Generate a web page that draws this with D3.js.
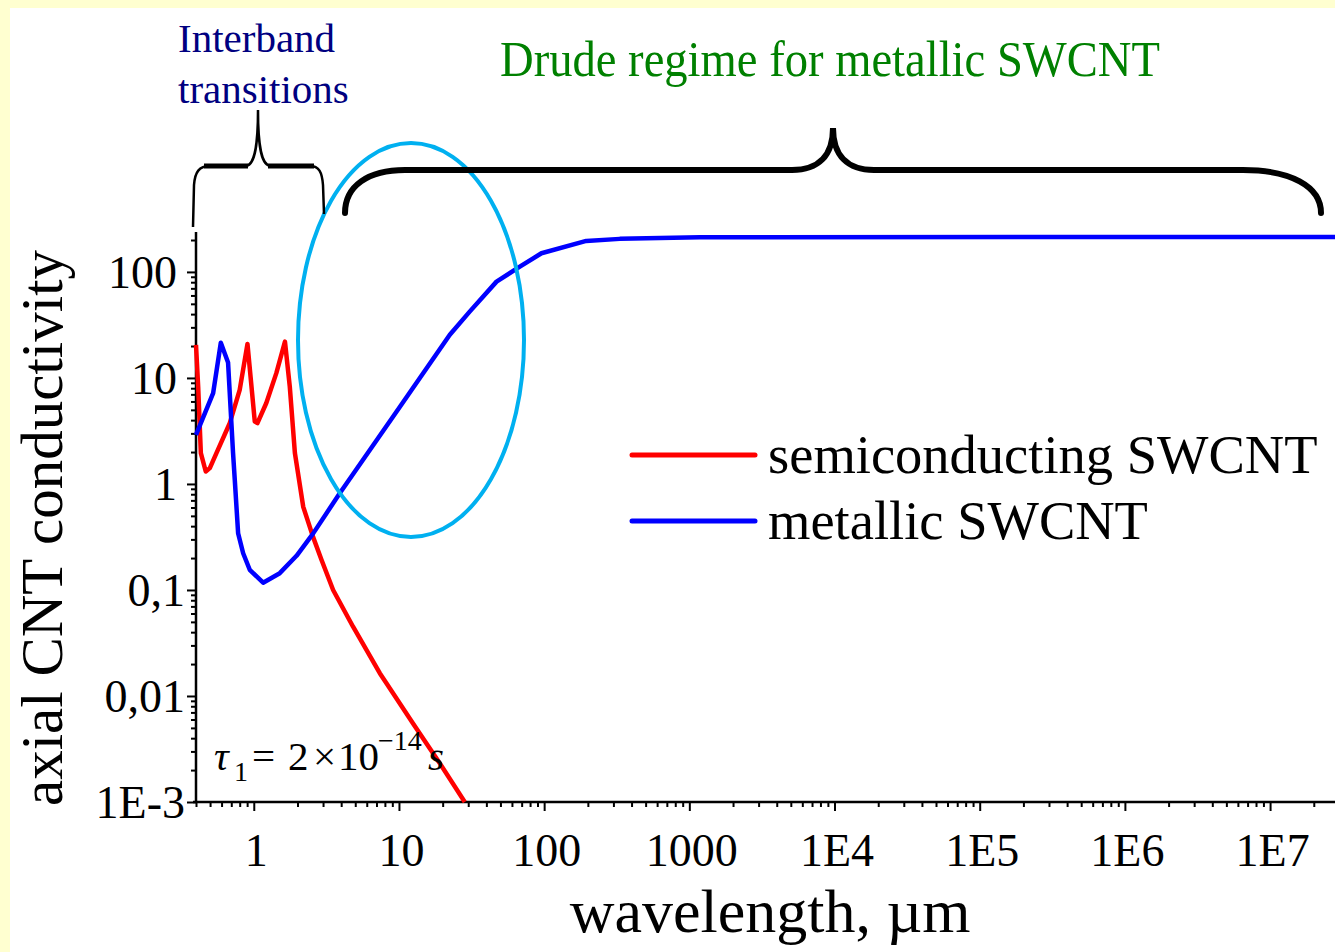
<!DOCTYPE html>
<html>
<head>
<meta charset="utf-8">
<script src="https://cdn.jsdelivr.net/npm/d3@7"></script>
<style>
  body { margin: 0; background: #FFFFD0; }
  svg { display: block; font-family: "Liberation Serif", "Times New Roman", serif; }
</style>
</head>
<body>
<div id="chart"></div>
<script>
// axis ticks
const xTickValues = [1, 10, 100, 1000, 1e4, 1e5, 1e6, 1e7];
const xTickLabels = ["1", "10", "100", "1000", "1E4", "1E5", "1E6", "1E7"];
const yTickValues = [1e-3, 0.01, 0.1, 1, 10, 100];
const yTickLabels = ["1E-3", "0,01", "0,1", "1", "10", "100"];

// semiconducting SWCNT (wavelength in um, conductivity)
const semiWavelength = [0.40, 0.414, 0.432, 0.467, 0.498, 0.553, 0.684, 0.80, 0.905,
  1.016, 1.06, 1.22, 1.43, 1.64, 1.77, 1.92, 2.19, 2.56, 2.93, 3.52, 4.83, 7.38, 8.2,
  12.5, 19.1, 28.4];
const semiConductivity = [20.5, 8.3, 1.95, 1.31, 1.41, 1.95, 3.76, 7.7, 20.9,
  3.87, 3.75, 5.8, 11.1, 22.0, 8.3, 1.95, 0.61, 0.317, 0.192, 0.100, 0.045, 0.0164, 0.0132,
  0.0055, 0.00232, 0.001];

// metallic SWCNT
const metalWavelength = [0.40, 0.525, 0.593, 0.665, 0.72, 0.74, 0.78, 0.845, 0.938,
  1.16, 1.51, 1.97, 2.56, 3.91, 10.1, 22.4, 30.7, 47, 68, 95.8, 195, 332, 1180, 2.8e7];
const metalConductivity = [2.9, 7.2, 21.5, 14.0, 1.95, 1.09, 0.343, 0.222, 0.155,
  0.117, 0.144, 0.21, 0.34, 0.817, 5.3, 25.5, 42.2, 81, 112, 150, 196, 205, 212, 214];

const seriesNames = ["semiconducting SWCNT", "metallic SWCNT"];
const seriesColors = ["#FF0000", "#0000FF"];

const W = 1335, H = 952;
const plot = {left: 196, right: 1335, top: 232, bottom: 802};

const svg = d3.select("#chart").append("svg")
    .attr("width", W)
    .attr("height", H);

// white panel inside yellow frame
svg.append("rect")
    .attr("x", 10).attr("y", 8)
    .attr("width", W - 10).attr("height", H - 8)
    .attr("fill", "#FFFFFF");

const xScale = d3.scaleLog().domain([0.4, 2.8e7]).range([plot.left, plot.right]);
const yScale = d3.scaleLog().domain([1e-3, 238]).range([plot.bottom, plot.top]);

// minor tick positions (2..9 in each decade)
const minorX = [];
for (let d = 0.1; d <= 1e7; d *= 10) {
    for (let m = 2; m <= 9; m++) {
        const v = +(d * m).toPrecision(3);
        if (v >= 0.4 && v <= 2.8e7) minorX.push(v);
    }
}
const minorY = [];
for (let d = 1e-3; d <= 100; d *= 10) {
    for (let m = 2; m <= 9; m++) {
        const v = +(d * m).toPrecision(3);
        if (v <= 238) minorY.push(v);
    }
}

// x axis
const xAxisG = svg.append("g")
    .attr("class", "xAxisG")
    .attr("transform", "translate(0," + plot.bottom + ")");
xAxisG.append("g")
    .call(d3.axisBottom(xScale).tickValues(minorX).tickSize(5).tickSizeOuter(0).tickFormat(""))
    .call(g => g.select(".domain").remove());
xAxisG.append("g")
    .call(d3.axisBottom(xScale).tickValues(xTickValues).tickSize(9).tickSizeOuter(0)
        .tickFormat((d, i) => xTickLabels[i]))
    .call(g => g.select(".domain").remove())
    .selectAll("text")
        .attr("y", 0).attr("dy", null)
        .attr("transform", "translate(2,64)")
        .attr("font-size", 46)
        .attr("font-family", "Liberation Serif")
        .attr("fill", "#000");
xAxisG.selectAll(".tick line").attr("stroke", "#000").attr("stroke-width", 2);
xAxisG.append("line")
    .attr("x1", 193).attr("x2", plot.right)
    .attr("stroke", "#000").attr("stroke-width", 2.5);

// y axis
const yAxisG = svg.append("g")
    .attr("class", "yAxisG")
    .attr("transform", "translate(" + plot.left + ",0)");
yAxisG.append("g")
    .call(d3.axisLeft(yScale).tickValues(minorY).tickSize(5).tickSizeOuter(0).tickFormat(""))
    .call(g => g.select(".domain").remove());
yAxisG.append("g")
    .call(d3.axisLeft(yScale).tickValues(yTickValues).tickSize(9).tickSizeOuter(0)
        .tickFormat((d, i) => yTickLabels[i]))
    .call(g => g.select(".domain").remove())
    .selectAll("text")
        // whole numbers sit a little further left than the decimal / exponent labels
        .attr("x", (d, i) => /[,E]/.test(yTickLabels[i]) ? -11 : -19)
        .attr("dy", "0.34em")
        .attr("font-size", 46)
        .attr("font-family", "Liberation Serif")
        .attr("fill", "#000");
yAxisG.selectAll(".tick line").attr("stroke", "#000").attr("stroke-width", 2);
yAxisG.append("line")
    .attr("y1", plot.top).attr("y2", plot.bottom)
    .attr("stroke", "#000").attr("stroke-width", 2.5);

// axis titles
svg.append("text")
    .attr("x", 770).attr("y", 932)
    .attr("text-anchor", "middle")
    .attr("font-size", 62)
    .text("wavelength, \u00B5m");
svg.append("text")
    .attr("transform", "translate(62,528) rotate(-90)")
    .attr("text-anchor", "middle")
    .attr("font-size", 59)
    .text("axial CNT conductivity");

// curves
const line = d3.line()
    .x(d => xScale(d[0]))
    .y(d => yScale(d[1]));

const semiData = semiWavelength.map((w, i) => [w, semiConductivity[i]]);
const metalData = metalWavelength.map((w, i) => [w, metalConductivity[i]]);

svg.append("path")
    .datum(semiData)
    .attr("d", line)
    .attr("fill", "none")
    .attr("stroke", seriesColors[0])
    .attr("stroke-width", 4.5)
    .attr("stroke-linejoin", "round");
svg.append("path")
    .datum(metalData)
    .attr("d", line)
    .attr("fill", "none")
    .attr("stroke", seriesColors[1])
    .attr("stroke-width", 4.5)
    .attr("stroke-linejoin", "round");

// legend
const legend = svg.append("g").attr("class", "legend");
seriesNames.forEach((name, i) => {
    const y = 455 + i * 66;
    legend.append("line")
        .attr("x1", 632).attr("x2", 755)
        .attr("y1", y).attr("y2", y)
        .attr("stroke", seriesColors[i])
        .attr("stroke-width", 5)
        .attr("stroke-linecap", "round");
    legend.append("text")
        .attr("x", 768).attr("y", y + 18)
        .attr("font-size", 54.5)
        .text(name);
});

// tau annotation
const tau = svg.append("g").attr("class", "tau").attr("font-size", 41);
tau.append("text").attr("x", 214).attr("y", 770).attr("font-style", "italic").text("\u03C4");
tau.append("text").attr("x", 234).attr("y", 781).attr("font-size", 28).text("1");
tau.append("text").attr("x", 252).attr("y", 770).text("=");
tau.append("text").attr("x", 288).attr("y", 770).text("2");
tau.append("text").attr("x", 313).attr("y", 770).text("\u00D7");
tau.append("text").attr("x", 338).attr("y", 770).text("10");
tau.append("text").attr("x", 378).attr("y", 750).attr("font-size", 28).text("\u221214");
tau.append("text").attr("x", 428).attr("y", 770).attr("font-style", "italic").text("s");

// ellipse highlight
svg.append("ellipse")
    .attr("cx", 411).attr("cy", 340)
    .attr("rx", 113).attr("ry", 197)
    .attr("fill", "none")
    .attr("stroke", "#00B0F0")
    .attr("stroke-width", 4);

// braces
svg.append("path")
    .attr("d", "M193,227 L194,185 C195,172 199,166 210,166 L245,166 C254,166 258,150 258,110 "
        + "C258,150 262,166 271,166 L310,166 C319,166 322,172 323,185 L324,214")
    .attr("fill", "none")
    .attr("stroke", "#000")
    .attr("stroke-width", 2.5);
svg.append("path")
    .attr("d", "M204,166 L248,166 M268,166 L314,166")
    .attr("fill", "none")
    .attr("stroke", "#000")
    .attr("stroke-width", 5);
svg.append("path")
    .attr("d", "M345,213 C345,186 368,170 405,170 L792,170 C818,170 833,156 833,128 "
        + "C833,156 848,170 874,170 L1243,170 C1290,170 1321,186 1321,213")
    .attr("fill", "none")
    .attr("stroke", "#000")
    .attr("stroke-width", 6)
    .attr("stroke-linecap", "round");

// region labels
svg.append("text")
    .attr("x", 178).attr("y", 52)
    .attr("font-size", 41)
    .attr("fill", "#000080")
    .text("Interband");
svg.append("text")
    .attr("x", 178).attr("y", 103)
    .attr("font-size", 41)
    .attr("fill", "#000080")
    .text("transitions");
svg.append("text")
    .attr("x", 500).attr("y", 76)
    .attr("font-size", 50)
    .attr("textLength", 660)
    .attr("lengthAdjust", "spacingAndGlyphs")
    .attr("fill", "#008000")
    .text("Drude regime for metallic SWCNT");
</script>
</body>
</html>
